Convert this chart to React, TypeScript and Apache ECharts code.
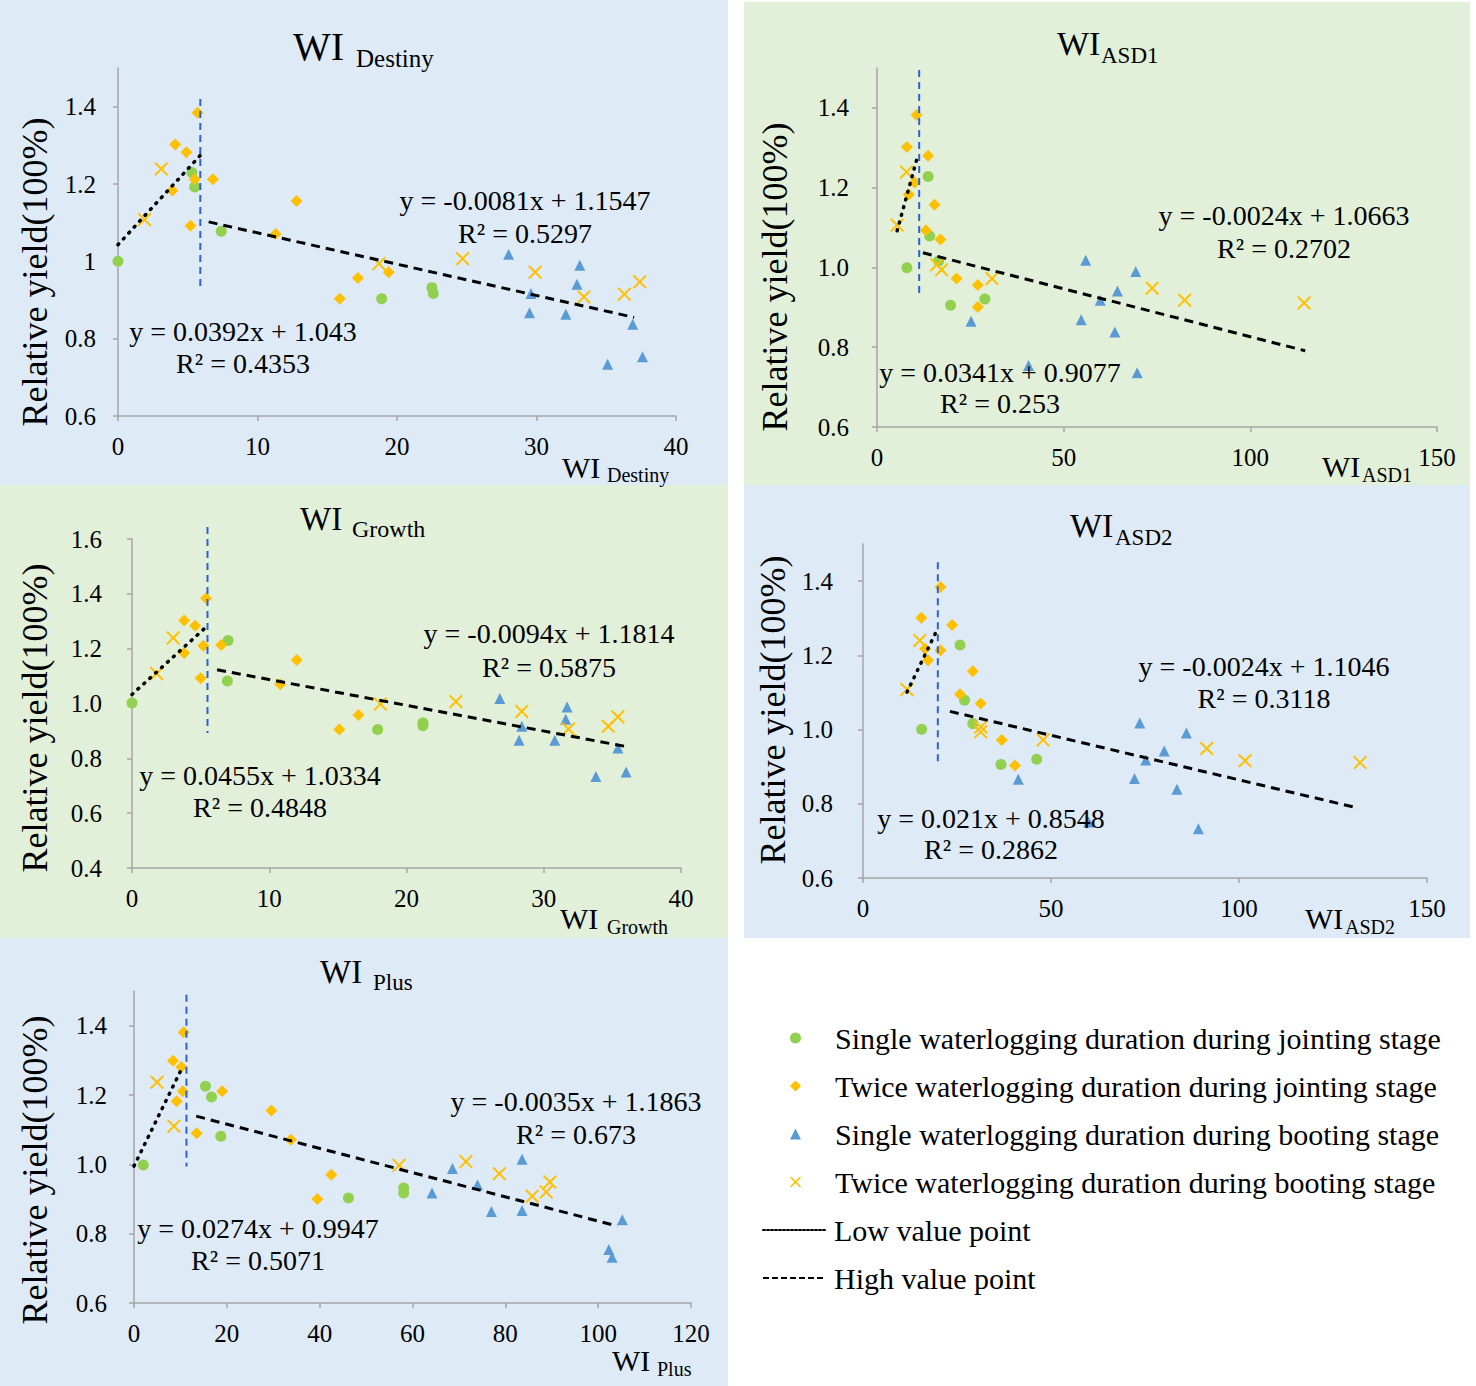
import React, { useEffect, useRef } from "react";
import * as echarts from "echarts";

const FONT = '"Liberation Serif", "Times New Roman", serif';
const BLUE_BG = "#deebf7";
const GREEN_BG = "#e2f0d9";
const AXIS = "#a6a6a6";

const NAME_SJ = "Single waterlogging duration during jointing stage";
const NAME_TJ = "Twice waterlogging duration during jointing stage";
const NAME_SB = "Single waterlogging duration during booting stage";
const NAME_TB = "Twice waterlogging duration during booting stage";
const NAME_LOW = "Low value point";
const NAME_HIGH = "High value point";

// ---- Panel 1: WI Destiny ----
const destinySJ = [[0, 1.0], [5.3, 1.23], [5.5, 1.192], [7.4, 1.078], [18.9, 0.903], [22.5, 0.932], [22.6, 0.917]];
const destinyTJ = [[5.7, 1.384], [4.1, 1.302], [4.9, 1.282], [6.8, 1.212], [5.5, 1.212], [3.9, 1.183], [5.2, 1.092], [12.8, 1.156], [11.3, 1.071], [19.4, 0.972], [17.2, 0.957], [15.9, 0.903]];
const destinySB = [[28.0, 1.018], [33.1, 0.99], [29.6, 0.917], [32.9, 0.941], [29.5, 0.867], [32.1, 0.863], [36.9, 0.837], [35.1, 0.734], [37.6, 0.753]];
const destinyTB = [[3.1, 1.239], [1.9, 1.108], [18.7, 0.994], [24.7, 1.007], [29.9, 0.972], [33.4, 0.908], [36.3, 0.915], [37.4, 0.947]];
const destinyLow = [[0, 1.043], [5.9, 1.274]];
const destinyHigh = [[6.5, 1.102], [37.0, 0.855]];
const destinyDivider = [[5.9, 1.42], [5.9, 0.93]];

// ---- Panel 2: WI ASD1 ----
const asd1SJ = [[8.0, 0.999], [13.7, 1.228], [14.1, 1.079], [16.5, 1.016], [19.7, 0.905], [28.9, 0.921]];
const asd1TJ = [[10.6, 1.382], [8.0, 1.302], [13.7, 1.28], [10.1, 1.213], [8.5, 1.183], [15.4, 1.157], [13.1, 1.093], [17.0, 1.07], [21.3, 0.972], [27.0, 0.956], [27.0, 0.901]];
const asd1SB = [[55.9, 1.018], [69.3, 0.99], [59.8, 0.918], [64.4, 0.941], [54.7, 0.869], [25.2, 0.865], [63.7, 0.838], [40.6, 0.754], [69.7, 0.736]];
const asd1TB = [[7.9, 1.239], [5.4, 1.106], [16.0, 1.007], [17.3, 0.994], [30.8, 0.972], [73.7, 0.948], [82.4, 0.918], [114.4, 0.911]];
const asd1Low = [[5.4, 1.092], [10.8, 1.276]];
const asd1High = [[12.3, 1.037], [114.7, 0.791]];
const asd1Divider = [[11.3, 1.495], [11.3, 0.931]];

// ---- Panel 3: WI Growth ----
const growthSJ = [[0, 1.002], [7.0, 1.23], [6.95, 1.082], [17.9, 0.905], [21.2, 0.93], [21.2, 0.919]];
const growthTJ = [[5.4, 1.384], [3.8, 1.303], [4.6, 1.284], [5.2, 1.211], [6.5, 1.213], [3.8, 1.184], [5.0, 1.092], [12.0, 1.159], [10.8, 1.07], [16.5, 0.958], [15.1, 0.905]];
const growthSB = [[26.8, 1.018], [31.7, 0.987], [28.4, 0.917], [31.6, 0.943], [28.2, 0.866], [30.8, 0.866], [35.4, 0.838], [33.8, 0.734], [36.0, 0.75]];
const growthTB = [[3.0, 1.239], [1.8, 1.109], [18.1, 0.998], [23.6, 1.007], [28.4, 0.971], [31.8, 0.907], [34.7, 0.917], [35.4, 0.951]];
const growthLow = [[0, 1.033], [5.4, 1.279]];
const growthHigh = [[6.2, 1.123], [35.9, 0.844]];
const growthDivider = [[5.5, 1.644], [5.5, 0.892]];

// ---- Panel 4: WI ASD2 ----
const asd2SJ = [[15.6, 1.001], [25.8, 1.228], [27.0, 1.079], [29.2, 1.016], [36.7, 0.906], [46.2, 0.92]];
const asd2TJ = [[20.6, 1.384], [15.5, 1.301], [23.7, 1.282], [20.6, 1.214], [17.3, 1.187], [16.5, 1.218], [29.2, 1.157], [25.8, 1.095], [31.3, 1.07], [36.9, 0.972], [40.4, 0.903]];
const asd2SB = [[73.6, 1.018], [86.0, 0.991], [75.2, 0.918], [80.1, 0.942], [72.2, 0.868], [41.3, 0.866], [83.5, 0.839], [60.0, 0.751], [89.2, 0.733]];
const asd2TB = [[15.1, 1.24], [11.7, 1.108], [31.3, 1.007], [31.3, 0.994], [47.9, 0.972], [91.4, 0.949], [101.6, 0.916], [132.2, 0.911]];
const asd2Low = [[11.7, 1.101], [19.9, 1.273]];
const asd2High = [[23.1, 1.049], [131.4, 0.789]];
const asd2Divider = [[19.9, 1.451], [19.9, 0.902]];

// ---- Panel 5: WI Plus ----
const plusSJ = [[2.0, 0.998], [15.4, 1.225], [16.7, 1.194], [18.7, 1.081], [46.2, 0.903], [58.1, 0.932], [58.1, 0.917]];
const plusTJ = [[10.7, 1.381], [8.4, 1.299], [10.2, 1.281], [10.5, 1.211], [19.0, 1.211], [9.2, 1.182], [13.5, 1.09], [29.6, 1.155], [33.8, 1.071], [42.5, 0.97], [39.5, 0.9]];
const plusSB = [[83.6, 1.015], [68.6, 0.988], [74.0, 0.941], [64.2, 0.917], [77.0, 0.864], [83.6, 0.867], [105.2, 0.84], [102.3, 0.754], [103.0, 0.732]];
const plusTB = [[4.95, 1.237], [8.6, 1.11], [57.1, 0.997], [71.5, 1.008], [78.7, 0.973], [85.8, 0.908], [88.8, 0.92], [89.6, 0.949]];
const plusLow = [[0, 0.995], [10.2, 1.274]];
const plusHigh = [[13.4, 1.139], [104.1, 0.822]];
const plusDivider = [[11.3, 1.489], [11.3, 0.994]];

// tick values
const yTicksA = [0.6, 0.8, 1.0, 1.2, 1.4];
const yTicksB = [0.4, 0.6, 0.8, 1.0, 1.2, 1.4, 1.6];

// equations
const eqDestiny = ["y = -0.0081x + 1.1547", "R² = 0.5297", "y = 0.0392x + 1.043", "R² = 0.4353"];
const eqAsd1 = ["y = -0.0024x + 1.0663", "R² = 0.2702", "y = 0.0341x + 0.9077", "R² = 0.253"];
const eqGrowth = ["y = -0.0094x + 1.1814", "R² = 0.5875", "y = 0.0455x + 1.0334", "R² = 0.4848"];
const eqAsd2 = ["y = -0.0024x + 1.1046", "R² = 0.3118", "y = 0.021x + 0.8548", "R² = 0.2862"];
const eqPlus = ["y = -0.0035x + 1.1863", "R² = 0.673", "y = 0.0274x + 0.9947", "R² = 0.5071"];

const X_PATH = "path://M0,1L1,0L5,4L9,0L10,1L6,5L10,9L9,10L5,6L1,10L0,9L4,5Z";

type Panel = {
  sub: string;
  bg: string;
  rect: number[];
  grid: { left: number; top: number; width: number; height: number };
  xMax: number;
  xInt: number;
  yMin: number;
  yMax: number;
  yTicks: number[];
  general: boolean;
  yMargin: number;
  sets: number[][][];
  low: number[][];
  high: number[][];
  divider: number[][];
  eq: string[];
  title: number[];
  xname: number[];
  eqPos: number[];
  yname: number[];
};

const PANELS: Panel[] = [
  {
    sub: "Destiny", bg: BLUE_BG, rect: [0, 0, 728, 485],
    grid: { left: 118, top: 68, width: 558, height: 348 },
    xMax: 40, xInt: 10, yMin: 0.6, yMax: 1.5, yTicks: yTicksA, general: true, yMargin: 22,
    sets: [destinySJ, destinyTJ, destinySB, destinyTB], low: destinyLow, high: destinyHigh, divider: destinyDivider,
    eq: eqDestiny,
    title: [293, 46, 40, 356, 58, 25], xname: [562, 467, 607, 475],
    eqPos: [525, 200, 233, 243, 331, 363], yname: [35, 272],
  },
  {
    sub: "ASD1", bg: GREEN_BG, rect: [744, 2, 726, 483],
    grid: { left: 877, top: 68, width: 560, height: 359 },
    xMax: 150, xInt: 50, yMin: 0.6, yMax: 1.5, yTicks: yTicksA, general: false, yMargin: 28,
    sets: [asd1SJ, asd1TJ, asd1SB, asd1TB], low: asd1Low, high: asd1High, divider: asd1Divider,
    eq: eqAsd1,
    title: [1057, 43, 34, 1101, 55, 23], xname: [1322, 466, 1362, 475],
    eqPos: [1284, 215, 248, 1000, 372, 403], yname: [775, 277],
  },
  {
    sub: "Growth", bg: GREEN_BG, rect: [0, 485, 728, 453],
    grid: { left: 132, top: 539, width: 549, height: 329 },
    xMax: 40, xInt: 10, yMin: 0.4, yMax: 1.6, yTicks: yTicksB, general: false, yMargin: 30,
    sets: [growthSJ, growthTJ, growthSB, growthTB], low: growthLow, high: growthHigh, divider: growthDivider,
    eq: eqGrowth,
    title: [300, 519, 33, 352, 529, 24], xname: [560, 918, 607, 927],
    eqPos: [549, 633, 667, 260, 775, 807], yname: [35, 718],
  },
  {
    sub: "ASD2", bg: BLUE_BG, rect: [744, 485, 726, 453],
    grid: { left: 863, top: 544, width: 564, height: 334 },
    xMax: 150, xInt: 50, yMin: 0.6, yMax: 1.5, yTicks: yTicksA, general: false, yMargin: 30,
    sets: [asd2SJ, asd2TJ, asd2SB, asd2TB], low: asd2Low, high: asd2High, divider: asd2Divider,
    eq: eqAsd2,
    title: [1070, 525, 34, 1115, 537, 23], xname: [1305, 918, 1345, 927],
    eqPos: [1264, 666, 698, 991, 818, 849], yname: [773, 710],
  },
  {
    sub: "Plus", bg: BLUE_BG, rect: [0, 938, 728, 448],
    grid: { left: 134, top: 991, width: 557, height: 312 },
    xMax: 120, xInt: 20, yMin: 0.6, yMax: 1.5, yTicks: yTicksA, general: false, yMargin: 27,
    sets: [plusSJ, plusTJ, plusSB, plusTB], low: plusLow, high: plusHigh, divider: plusDivider,
    eq: eqPlus,
    title: [320, 972, 33, 373, 982, 23], xname: [612, 1360, 657, 1369],
    eqPos: [576, 1101, 1134, 258, 1228, 1260], yname: [35, 1170],
  },
];

const SCATTER_STYLES = [
  { name: NAME_SJ, symbol: "circle", size: 11, color: "#92d050" },
  { name: NAME_TJ, symbol: "diamond", size: 12, color: "#ffc000" },
  { name: NAME_SB, symbol: "triangle", size: 11, color: "#5b9bd5" },
  { name: NAME_TB, symbol: X_PATH, size: 14, color: "#ffc000" },
];

function txt(text: string, x: number, y: number, size: number, align = "left", rotation = 0) {
  return {
    type: "text",
    x,
    y,
    rotation,
    z: 50,
    silent: true,
    style: { text, fill: "#000", fontSize: size, fontFamily: FONT, align, verticalAlign: "middle" },
  };
}

function buildOption() {
  const graphics: any[] = [];
  PANELS.forEach((p) => {
    graphics.push({
      type: "rect",
      z: -10,
      silent: true,
      shape: { x: p.rect[0], y: p.rect[1], width: p.rect[2], height: p.rect[3] },
      style: { fill: p.bg },
    });
    graphics.push(txt("WI", p.title[0], p.title[1], p.title[2]));
    graphics.push(txt(p.sub, p.title[3], p.title[4], p.title[5]));
    graphics.push(txt("WI", p.xname[0], p.xname[1], 30));
    graphics.push(txt(p.sub, p.xname[2], p.xname[3], 20));
    graphics.push(txt(p.eq[0], p.eqPos[0], p.eqPos[1], 28, "center"));
    graphics.push(txt(p.eq[1], p.eqPos[0], p.eqPos[2], 28, "center"));
    graphics.push(txt(p.eq[2], p.eqPos[3], p.eqPos[4], 28, "center"));
    graphics.push(txt(p.eq[3], p.eqPos[3], p.eqPos[5], 28, "center"));
    graphics.push(txt("Relative yield(100%)", p.yname[0], p.yname[1], 36, "center", Math.PI / 2));
  });

  const grid = PANELS.map((p) => ({ ...p.grid, containLabel: false, outerBoundsMode: "none" }));

  const xAxis = PANELS.map((p, i) => ({
    type: "value",
    gridIndex: i,
    min: 0,
    max: p.xMax,
    interval: p.xInt,
    axisLine: { show: true, onZero: false, lineStyle: { color: AXIS, width: 1.5 } },
    axisTick: { show: true, length: 5, lineStyle: { color: AXIS, width: 1.5 } },
    axisLabel: { fontSize: 25, color: "#000", fontFamily: FONT, margin: 18 },
    splitLine: { show: false },
  }));

  const yAxis = PANELS.map((p, i) => {
    const isTick = (v: number) => p.yTicks.some((t) => Math.abs(t - v) < 1e-6);
    return {
      type: "value",
      gridIndex: i,
      min: p.yMin,
      max: p.yMax,
      interval: 0.2,
      axisLine: { show: true, onZero: false, lineStyle: { color: AXIS, width: 1.5 } },
      axisTick: { show: true, length: 5, customValues: p.yTicks, lineStyle: { color: AXIS, width: 1.5 } },
      axisLabel: {
        fontSize: 25,
        color: "#000",
        fontFamily: FONT,
        margin: p.yMargin,
        customValues: p.yTicks,
        formatter: (v: number) => {
          if (!isTick(v)) return "";
          if (p.general && Math.abs(v - 1) < 1e-6) return "1";
          return v.toFixed(1);
        },
      },
      splitLine: { show: false },
    };
  });

  const series: any[] = [];
  PANELS.forEach((p, i) => {
    SCATTER_STYLES.forEach((s, k) => {
      series.push({
        type: "scatter",
        name: s.name,
        xAxisIndex: i,
        yAxisIndex: i,
        symbol: s.symbol,
        symbolSize: s.size,
        symbolKeepAspect: true,
        itemStyle: { color: s.color, opacity: 1 },
        data: p.sets[k],
        silent: true,
        z: 3,
      });
    });
    series.push({
      type: "line",
      name: "divider" + i,
      xAxisIndex: i,
      yAxisIndex: i,
      symbol: "none",
      clip: false,
      data: p.divider,
      lineStyle: { color: "#2b62d4", width: 2, type: [7, 5] },
      silent: true,
      z: 4,
    });
    series.push({
      type: "line",
      name: NAME_LOW,
      xAxisIndex: i,
      yAxisIndex: i,
      symbol: "none",
      data: p.low,
      lineStyle: { color: "#000", width: 3.5, type: [1, 7], cap: "round" },
      silent: true,
      z: 5,
    });
    series.push({
      type: "line",
      name: NAME_HIGH,
      xAxisIndex: i,
      yAxisIndex: i,
      symbol: "none",
      data: p.high,
      lineStyle: { color: "#000", width: 3, type: [9, 6] },
      silent: true,
      z: 5,
    });
  });

  const hidden = { opacity: 0, color: "transparent", borderColor: "transparent", borderWidth: 0 };
  const legendText = { fontFamily: FONT, fontSize: 30, color: "#000", lineHeight: 30 };

  return {
    animation: false,
    backgroundColor: "#ffffff",
    textStyle: { fontFamily: FONT },
    graphic: { elements: graphics },
    grid,
    xAxis,
    yAxis,
    legend: [
      {
        orient: "vertical",
        left: 785,
        top: 1018,
        itemWidth: 11,
        itemHeight: 11,
        itemGap: 18,
        selectedMode: false,
        textStyle: { ...legendText, padding: [0, 0, 0, 29] },
        data: [{ name: NAME_SJ }, { name: NAME_TJ }, { name: NAME_SB }, { name: NAME_TB }],
      },
      {
        orient: "vertical",
        left: 757,
        top: 1210,
        itemWidth: 63,
        itemHeight: 11,
        itemGap: 18,
        selectedMode: false,
        textStyle: { ...legendText, padding: [0, 0, 0, 3] },
        data: [
          { name: NAME_LOW, itemStyle: hidden, lineStyle: { width: 2, type: [2, 2], color: "#000" } },
          { name: NAME_HIGH, itemStyle: hidden, lineStyle: { width: 2, type: [6, 3], color: "#000" } },
        ],
      },
    ],
    series,
  };
}

export default function App() {
  const ref = useRef<HTMLDivElement>(null);
  useEffect(() => {
    document.body.style.margin = "0";
    if (!ref.current) return;
    const chart = echarts.init(ref.current, undefined, { renderer: "svg" });
    chart.setOption(buildOption() as any);
    return () => chart.dispose();
  }, []);
  return <div ref={ref} style={{ width: 1476, height: 1386 }} />;
}
